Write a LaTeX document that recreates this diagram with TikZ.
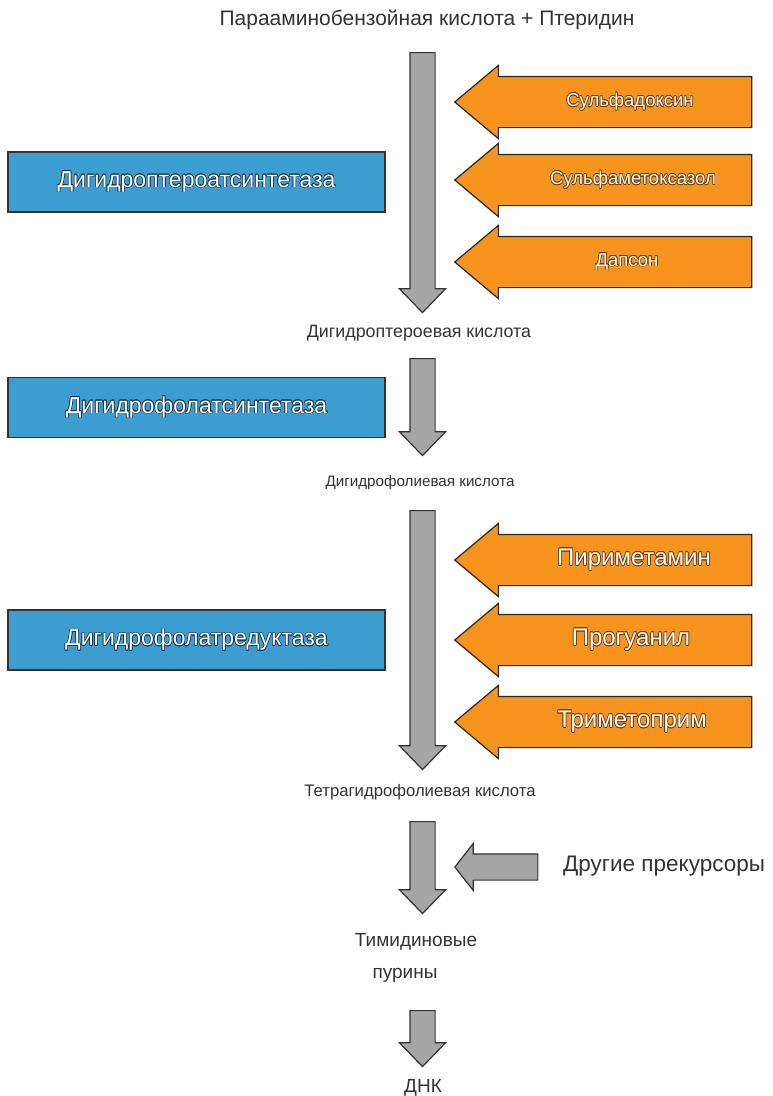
\documentclass[tikz,border=0pt]{standalone}
\usepackage{fontspec}
\setmainfont{Liberation Sans}
\usepackage{contour}
\contourlength{0.6pt}
\usetikzlibrary{shapes.arrows}
\definecolor{enzblue}{RGB}{59,157,208}
\definecolor{drugorange}{RGB}{247,148,30}
\definecolor{flowgray}{RGB}{166,166,166}
\definecolor{textgray}{RGB}{51,51,51}
\definecolor{outlinebrown}{RGB}{110,60,10}
\definecolor{glowblue}{RGB}{25,55,80}
\tikzset{
  flow/.style={single arrow, draw=black!80, line width=1.2pt, fill=flowgray,
    inner xsep=12pt, inner ysep=0pt, single arrow head extend=10.5pt,
    single arrow tip angle=88, shape border rotate=270, anchor=tail},
  druga/.style={single arrow, draw=black!85, line width=1.2pt, fill=drugorange,
    inner xsep=0pt, inner ysep=25pt, single arrow head extend=11pt,
    minimum height=297pt, single arrow tip angle=80, shape border rotate=180},
  enzyme/.style={draw=black!80, line width=1.5pt, fill=enzblue, text=white,
    minimum width=377pt, minimum height=60pt, font=\fontsize{23}{26}\selectfont},
  metab/.style={text=textgray, inner sep=0pt},
  drugtxt/.style={text=white, inner sep=0pt}
}
\begin{document}
\begin{tikzpicture}[x=1pt,y=1pt]
    \useasboundingbox[fill=white] (0,0) rectangle (772,-1096);
    \node[metab, font=\fontsize{21}{24}\selectfont] (paba) at (427,-20) {Парааминобензойная кислота + Птеридин};
    \node[flow, minimum height=260pt] (f1) at (422.5,-52) {};
    \node[metab, font=\fontsize{17.8}{20}\selectfont] (dhp) at (419,-333) {Дигидроптероевая кислота};
    \node[flow, minimum height=97pt] (f2) at (422.5,-358) {};
    \node[metab, font=\fontsize{15.2}{18}\selectfont] (dhf) at (420,-483) {Дигидрофолиевая кислота};
    \node[flow, minimum height=259pt] (f3) at (422.5,-510) {};
    \node[metab, font=\fontsize{16.7}{19}\selectfont] (thf) at (420,-792) {Тетрагидрофолиевая кислота};
    \node[flow, minimum height=92pt] (f4) at (422.5,-821) {};
    \node[metab, font=\fontsize{19}{22}\selectfont] (thy) at (416,-942) {Тимидиновые};
    \node[metab, font=\fontsize{19}{22}\selectfont] (pur) at (405,-975) {пурины};
    \node[flow, minimum height=56pt] (f5) at (422.5,-1010) {};
    \node[metab, font=\fontsize{19}{22}\selectfont] (dna) at (423,-1088) {ДНК};

    \node[enzyme] (dhps) at (196.5,-182) {\contour{glowblue}{Дигидроптероатсинтетаза}};
    \node[enzyme] (dhfs) at (196.5,-407.5) {\contour{glowblue}{Дигидрофолатсинтетаза}};
    \node[enzyme] (dhfr) at (196.5,-640) {\contour{glowblue}{Дигидрофолатредуктаза}};

    \node[druga] (sdx) at (618.5,-102) {};
    \node[druga] (smx) at (618.5,-180) {};
    \node[druga] (dap) at (618.5,-262) {};
    \node[drugtxt, font=\fontsize{18.5}{22}\selectfont] (sdxt) at (630,-102) {\contour{outlinebrown}{Сульфадоксин}};
    \node[drugtxt, font=\fontsize{18.5}{22}\selectfont] (smxt) at (633,-180) {\contour{outlinebrown}{Сульфаметоксазол}};
    \node[drugtxt, font=\fontsize{18.5}{22}\selectfont] (dapt) at (627,-262) {\contour{outlinebrown}{Дапсон}};

    \node[druga] (pyr) at (618.5,-560) {};
    \node[druga] (prg) at (618.5,-640) {};
    \node[druga] (tmp) at (618.5,-722) {};
    \node[drugtxt, font=\fontsize{24}{28}\selectfont] (pyrt) at (634,-560) {\contour{outlinebrown}{Пириметамин}};
    \node[drugtxt, font=\fontsize{24}{28}\selectfont] (prgt) at (631,-640) {\contour{outlinebrown}{Прогуанил}};
    \node[drugtxt, font=\fontsize{24}{28}\selectfont] (tmpt) at (632,-722) {\contour{outlinebrown}{Триметоприм}};

    \node[flow, shape border rotate=180, anchor=center, minimum height=83pt,
      inner xsep=0pt, inner ysep=12.5pt, single arrow tip angle=104] (oth) at (501.5,-867) {};
    \node[metab, anchor=west, font=\fontsize{22.5}{26}\selectfont] (otht) at (563,-866) {Другие прекурсоры};
\end{tikzpicture}
\end{document}
